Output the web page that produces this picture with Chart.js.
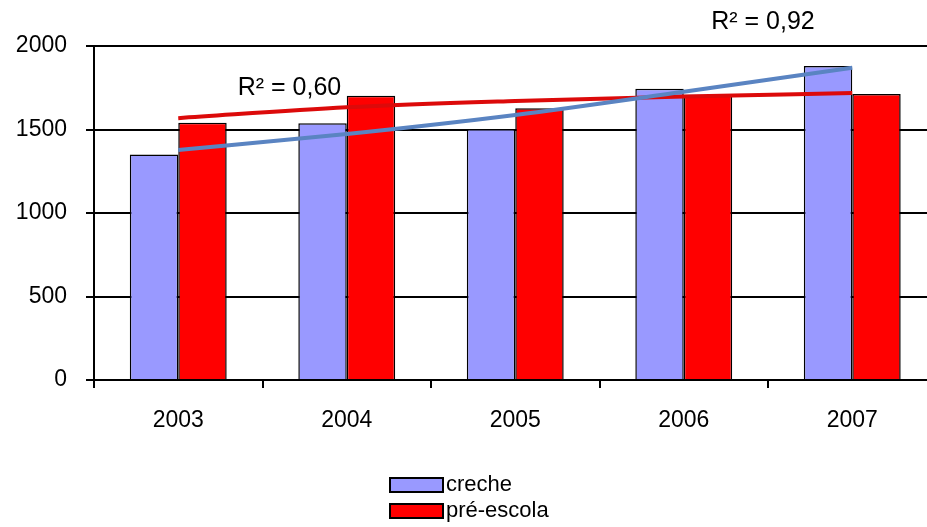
<!DOCTYPE html>
<html>
<head>
<meta charset="utf-8">
<script src="https://cdn.jsdelivr.net/npm/chart.js@4/dist/chart.umd.min.js"></script>
<style>
  html, body { margin: 0; padding: 0; background: #fff; overflow: hidden; }
  #wrap { width: 927px; height: 527px; overflow: hidden; position: relative; }
  canvas { display: block; }
</style>
</head>
<body>
<div id="wrap"><canvas id="c" width="940" height="527" style="width:940px;height:527px"></canvas></div>
<script>
const years = ['2003', '2004', '2005', '2006', '2007'];
const creche = [1351, 1537, 1503, 1744, 1880];
const preEscola = [1541, 1702, 1627, 1708, 1712];
const trendCreche = [1377, 1473, 1587, 1726, 1870];
const trendPreEscola = [1568, 1633, 1671, 1698, 1718];
const r2Creche = 'R² = 0,92';
const r2PreEscola = 'R² = 0,60';
const seriesNames = ['creche', 'pré-escola'];
const yMin = 0, yMax = 2000, yStep = 500;

const FONT = '"Liberation Sans", Arial, sans-serif';

const annotations = {
  id: 'annotations',
  afterDatasetsDraw(chart) {
    const ctx = chart.ctx;
    const xs = chart.scales.x, ys = chart.scales.y;
    const step = xs.getPixelForValue(1) - xs.getPixelForValue(0);
    ctx.save();
    ctx.fillStyle = '#000';
    ctx.font = '25px ' + FONT;
    ctx.textAlign = 'center';
    ctx.textBaseline = 'middle';
    ctx.fillText(r2PreEscola, xs.getPixelForValue(0) + 0.66 * step, ys.getPixelForValue(1748));
    ctx.fillText(r2Creche, xs.getPixelForValue(3) + 0.47 * step, ys.getPixelForValue(2144));
    ctx.restore();
  },
  afterDraw(chart) {
    const ctx = chart.ctx;
    const ds = chart.data.datasets.filter(d => d.type === 'bar');
    ctx.save();
    ctx.font = '22px ' + FONT;
    ctx.textAlign = 'left';
    ctx.textBaseline = 'middle';
    ds.forEach((d, i) => {
      const cy = 485 + i * 26;
      ctx.fillStyle = d.backgroundColor;
      ctx.fillRect(390, cy - 7, 53, 14);
      ctx.strokeStyle = '#000';
      ctx.lineWidth = 2;
      ctx.strokeRect(390, cy - 7, 53, 14);
      ctx.fillStyle = '#000';
      ctx.fillText(d.label, 446, cy);
    });
    ctx.restore();
  }
};

new Chart(document.getElementById('c'), {
  data: {
    labels: years,
    datasets: [
      { type: 'line', label: 'trend ' + seriesNames[0], data: trendCreche, borderColor: '#5a84c2', borderWidth: 4, pointRadius: 0, cubicInterpolationMode: 'monotone', order: 0 },
      { type: 'line', label: 'trend ' + seriesNames[1], data: trendPreEscola, borderColor: '#dc0a0a', borderWidth: 4, pointRadius: 0, cubicInterpolationMode: 'monotone', order: 0 },
      { type: 'bar', label: seriesNames[0], data: creche, backgroundColor: '#9999ff', borderColor: '#000', borderWidth: 1.5, order: 1 },
      { type: 'bar', label: seriesNames[1], data: preEscola, backgroundColor: '#ff0000', borderColor: '#000', borderWidth: 1.5, order: 1 }
    ]
  },
  options: {
    responsive: false,
    animation: false,
    devicePixelRatio: 1,
    layout: { padding: { left: 0, right: 3.5, top: 46, bottom: 96 } },
    datasets: { bar: { categoryPercentage: 0.575, barPercentage: 1 } },
    plugins: { legend: { display: false }, tooltip: { enabled: false } },
    scales: {
      x: {
        grid: { offset: true, drawOnChartArea: false, drawTicks: true, tickLength: 8, color: '#000', lineWidth: 2 },
        border: { display: true, color: '#000', width: 2 },
        ticks: { color: '#000', font: { family: FONT, size: 23 }, padding: 19 },
        afterFit(s) { s.height = 51; }
      },
      y: {
        min: yMin, max: yMax,
        grid: { color: '#000', lineWidth: 2, drawTicks: true, tickLength: 8 },
        border: { display: true, color: '#000', width: 2 },
        ticks: { stepSize: yStep, color: '#000', font: { family: FONT, size: 23 }, padding: 19, callback: v => String(v) },
        afterFit(s) { s.width = 94; }
      }
    }
  },
  plugins: [annotations]
});
</script>
</body>
</html>
